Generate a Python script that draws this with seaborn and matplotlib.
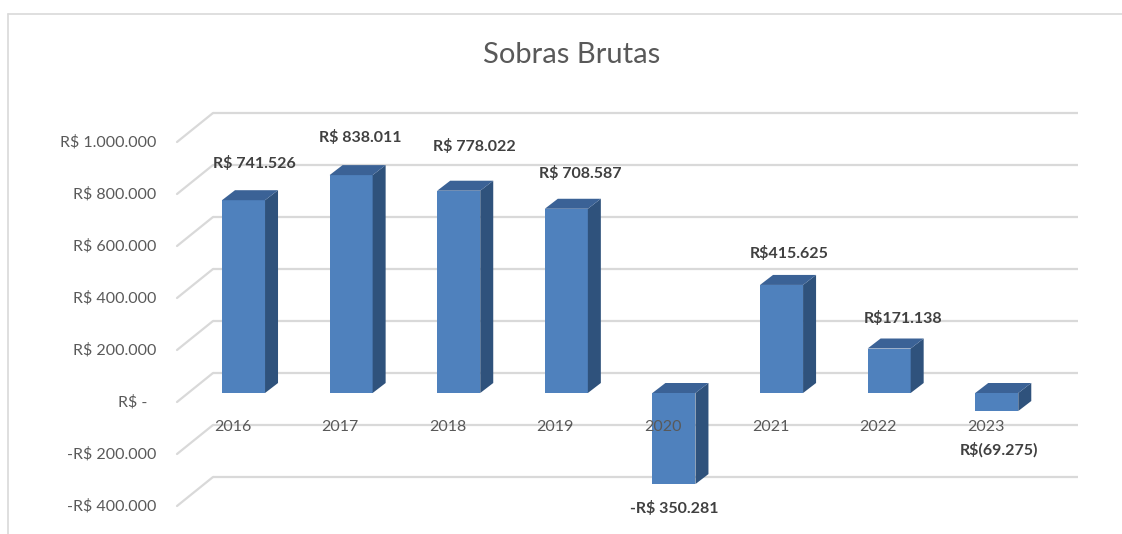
import numpy as np
import pandas as pd
import matplotlib
matplotlib.use("Agg")
import matplotlib.pyplot as plt
import seaborn as sns
from matplotlib.patches import Polygon
from matplotlib.lines import Line2D

# ---------------- data ----------------
years = ["2016", "2017", "2018", "2019", "2020", "2021", "2022", "2023"]
values = [741526, 838011, 778022, 708587, -350281, 415625, 171138, -69275]
value_labels = ["R$ 741.526", "R$ 838.011", "R$ 778.022", "R$ 708.587",
                "-R$ 350.281", "R$415.625", "R$171.138", "R$(69.275)"]
tick_values = [-400000, -200000, 0, 200000, 400000, 600000, 800000, 1000000]
tick_labels = ["-R$ 400.000", "-R$ 200.000", "R$ -  ", "R$ 200.000",
               "R$ 400.000", "R$ 600.000", "R$ 800.000", "R$ 1.000.000"]
title = "Sobras Brutas"

# ---------------- style ----------------
FRONT = "#4F81BD"
SIDE = "#2F527C"
TOP = "#3B6296"
GRID = "#D9D9D9"
TEXT = "#595959"
LABEL = "#404040"
# per-label offsets in pixels (dx, distance from bar end)
LABEL_DX = [11, 9, 16, 14, 0, 8, 14, 2]
LABEL_DY = [37, 38, 44, 35, 24, 31, 30, 39]

W, H = 1122, 534
sns.set_theme(style="white")
plt.rcParams["font.family"] = ["Lato", "DejaVu Sans"]

fig = plt.figure(figsize=(W / 100, H / 100), dpi=100)
AX_L, AX_R, AX_T, AX_B = 177, 1078, 100, 500
ax = fig.add_axes([AX_L / W, (H - AX_B) / H, (AX_R - AX_L) / W, (AX_B - AX_T) / H])

df = pd.DataFrame({"year": years, "value": values})
sns.barplot(data=df, x="year", y="value", color=FRONT, saturation=1,
            width=0.4, errorbar=None, ax=ax, zorder=3, linewidth=0)

XLIM = (-0.618, 7.755)
YLIM = (-411538, 1126923)
ax.set_xlim(*XLIM)
ax.set_ylim(*YLIM)
ax.axis("off")

def dxp(px):
    return px * (XLIM[1] - XLIM[0]) / (AX_R - AX_L)

def dyp(px):
    return px * (YLIM[1] - YLIM[0]) / (AX_B - AX_T)

xl = XLIM[0]
# back wall gridlines + side wall diagonals + tick labels
for v, lab in zip(tick_values, tick_labels):
    ax.plot([xl + dxp(36), XLIM[1]], [v + dyp(20)] * 2, color=GRID, lw=1.6,
            zorder=1, clip_on=False, solid_capstyle="butt")
    ax.plot([xl, xl + dxp(36)], [v - dyp(9), v + dyp(20)], color=GRID, lw=1.6,
            zorder=1, clip_on=False)
    ax.text(xl - dxp(21), v - dyp(9), lab, ha="right", va="center",
            fontsize=11.5, color=TEXT)

# 3D faces for bars
ddx, ddy = dxp(13), dyp(10)
for p in ax.patches[:len(values)]:
    x0, w = p.get_x(), p.get_width()
    y0, h = p.get_y(), p.get_height()
    ybot, ytop = min(y0, y0 + h), max(y0, y0 + h)
    side = Polygon([(x0 + w, ybot), (x0 + w, ytop), (x0 + w + ddx, ytop + ddy),
                    (x0 + w + ddx, ybot + ddy)], closed=True, facecolor=SIDE,
                   edgecolor="none", zorder=3)
    top = Polygon([(x0, ytop), (x0 + w, ytop), (x0 + w + ddx, ytop + ddy),
                   (x0 + ddx, ytop + ddy)], closed=True, facecolor=TOP,
                  edgecolor="none", zorder=3)
    ax.add_patch(side)
    ax.add_patch(top)

# category labels
for i, yr in enumerate(years):
    ax.text(i - dxp(11), -dyp(34), yr, ha="center", va="center",
            fontsize=11.5, color=TEXT, zorder=6)

# data labels
for i, (v, lab) in enumerate(zip(values, value_labels)):
    if v >= 0:
        y = v + dyp(LABEL_DY[i])
    else:
        y = v - dyp(LABEL_DY[i])
    ax.text(i + dxp(LABEL_DX[i]), y, lab, ha="center", va="center",
            fontsize=11.5, fontweight="bold", color=LABEL, zorder=6)

fig.text(572 / W, 1 - 55 / H, title, ha="center", va="center",
         fontsize=21, color=TEXT)

# chart frame
fig.add_artist(Line2D([8 / W, 8 / W], [0, 1 - 14 / H], transform=fig.transFigure,
                      color=GRID, lw=1.2))
fig.add_artist(Line2D([8 / W, 1], [1 - 14 / H, 1 - 14 / H], transform=fig.transFigure,
                      color=GRID, lw=1.2))

fig.savefig("out.png", dpi=100)
